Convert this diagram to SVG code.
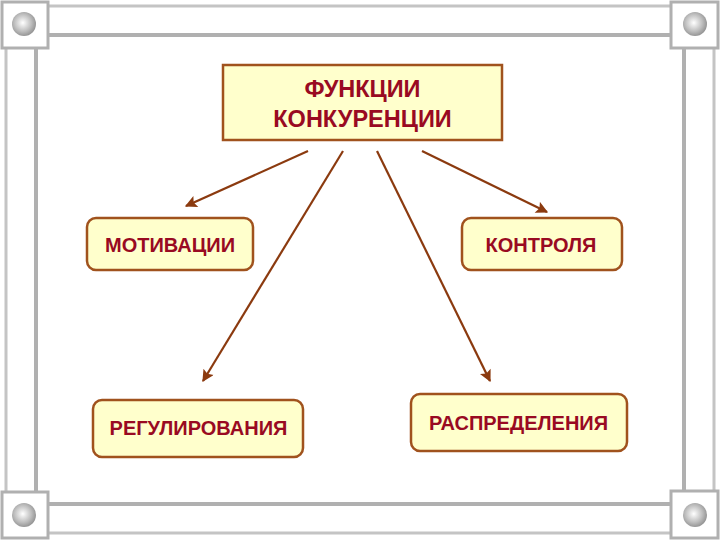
<svg xmlns="http://www.w3.org/2000/svg" width="720" height="540" viewBox="0 0 720 540">
<defs>
<radialGradient id="ball" cx="0.45" cy="0.45" r="0.6">
<stop offset="0" stop-color="#ffffff"/>
<stop offset="0.6" stop-color="#bdbdbd"/>
<stop offset="1" stop-color="#8c8c8c"/>
</radialGradient>
<marker id="ah" viewBox="0 0 10 10" refX="9" refY="5" markerWidth="14" markerHeight="12" markerUnits="userSpaceOnUse" orient="auto">
<path d="M0,0 L10,5 L0,10 L2,5 z" fill="#8b3a0f"/>
</marker>
<style>
.bar{stroke:#b0b0b0;stroke-width:4;fill:none}
.bar2{stroke:#c4c4c4;stroke-width:3;fill:none}
.corner{fill:#ffffff;stroke:#b0b0b0;stroke-width:3}
.box{fill:#ffffcc;stroke:#a0521d;stroke-width:2.5}
.t{font-family:"Liberation Sans",Arial,sans-serif;font-weight:bold;fill:#990a22;text-anchor:middle}
.conn{stroke:#8b3a0f;stroke-width:2.2;fill:none;marker-end:url(#ah)}
</style>
</defs>
<rect width="720" height="540" fill="#ffffff"/>
<g id="frame">
<line class="bar2" x1="48" y1="6" x2="672" y2="6"/>
<line class="bar" x1="48" y1="35" x2="672" y2="35"/>
<line class="bar" x1="48" y1="504" x2="672" y2="504"/>
<line class="bar2" x1="48" y1="533" x2="672" y2="533"/>
<line class="bar2" x1="6" y1="48" x2="6" y2="492"/>
<line class="bar" x1="36" y1="48" x2="36" y2="492"/>
<line class="bar" x1="684" y1="48" x2="684" y2="492"/>
<line class="bar2" x1="714" y1="48" x2="714" y2="492"/>
<rect class="corner" x="2" y="2" width="46" height="46"/>
<circle cx="24" cy="24" r="12" fill="url(#ball)"/>
<rect class="corner" x="671" y="2" width="47" height="46"/>
<circle cx="695" cy="24" r="12" fill="url(#ball)"/>
<rect class="corner" x="2" y="492" width="46" height="46"/>
<circle cx="24" cy="515" r="12" fill="url(#ball)"/>
<rect class="corner" x="671" y="491" width="47" height="47"/>
<circle cx="695" cy="515" r="12" fill="url(#ball)"/>
</g>
<g id="connectors">
<line class="conn" x1="308" y1="151" x2="186" y2="206"/>
<line class="conn" x1="343" y1="151" x2="203" y2="381"/>
<line class="conn" x1="377" y1="151" x2="490" y2="381"/>
<line class="conn" x1="422" y1="151" x2="547" y2="212"/>
</g>
<g id="main">
<rect class="box" x="223" y="65" width="279" height="75"/>
<text class="t" x="362.5" y="97" font-size="23.5">ФУНКЦИИ</text>
<text class="t" x="362.5" y="127" font-size="23.5">КОНКУРЕНЦИИ</text>
</g>
<g id="motivacii">
<rect class="box" x="87" y="218" width="166" height="52" rx="9"/>
<text class="t" x="170" y="252" font-size="20">МОТИВАЦИИ</text>
</g>
<g id="kontrolya">
<rect class="box" x="462" y="218" width="160" height="52" rx="9"/>
<text class="t" x="541" y="252" font-size="20">КОНТРОЛЯ</text>
</g>
<g id="regulirovaniya">
<rect class="box" x="93" y="400" width="210" height="57" rx="9"/>
<text class="t" x="198.5" y="435" font-size="20">РЕГУЛИРОВАНИЯ</text>
</g>
<g id="raspredeleniya">
<rect class="box" x="411" y="394" width="216" height="57" rx="9"/>
<text class="t" x="518.5" y="430" font-size="20">РАСПРЕДЕЛЕНИЯ</text>
</g>
</svg>
